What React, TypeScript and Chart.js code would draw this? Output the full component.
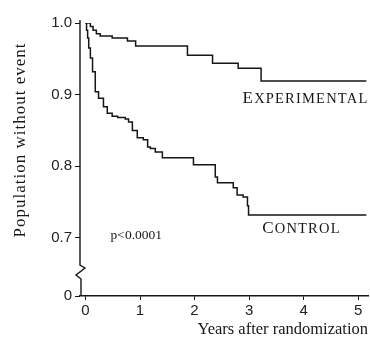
import React, { useEffect, useRef } from "react";
import { Chart, registerables } from "chart.js";

Chart.register(...registerables);

// Kaplan-Meier steps (years, survival)
const expYears = [0, 0.09, 0.14, 0.2, 0.27, 0.49, 0.77, 0.92, 1.87, 2.33, 2.8, 3.22, 5.15];
const expSurv = [1.0, 0.995, 0.99, 0.985, 0.982, 0.979, 0.975, 0.968, 0.955, 0.944, 0.937, 0.919, 0.919];

const ctrlYears = [0, 0.02, 0.04, 0.06, 0.09, 0.13, 0.18, 0.24, 0.33, 0.4, 0.49, 0.59, 0.73, 0.79, 0.86, 0.95, 1.06, 1.14, 1.19, 1.28, 1.41, 1.98, 2.38, 2.42, 2.71, 2.78, 2.89, 2.97, 2.99, 5.15];
const ctrlSurv = [1.0, 0.99, 0.979, 0.965, 0.951, 0.932, 0.904, 0.895, 0.883, 0.874, 0.87, 0.868, 0.866, 0.862, 0.85, 0.84, 0.837, 0.827, 0.825, 0.82, 0.812, 0.802, 0.785, 0.777, 0.77, 0.76, 0.757, 0.745, 0.732, 0.732];

const xTicks = [0, 1, 2, 3, 4, 5];
const yTicks = [0.7, 0.8, 0.9, 1.0];
const yBreakValue = 0.619; // bottom of the broken axis, labelled "0"
const yBreakLabel = "0";

const xTitle = "Years after randomization";
const yTitle = "Population without event";

const curveLabels = [
  { text: "Experimental", x: 2.88, y: 0.888 },
  { text: "Control", x: 3.24, y: 0.707 },
];
const pValue = { text: "p<0.0001", x: 0.46, y: 0.704 };

const INK = "#161616";

const axisPlugin = {
  id: "brokenAxis",
  afterDraw(chart: any) {
    const { ctx, chartArea, scales } = chart;
    const x0 = chartArea.left;
    const top = chartArea.top - 3;
    const bottom = chartArea.bottom;
    ctx.save();
    // broken y axis
    ctx.strokeStyle = INK;
    ctx.lineWidth = 1.4;
    ctx.beginPath();
    ctx.moveTo(x0, top);
    ctx.lineTo(x0, bottom - 31);
    ctx.lineTo(x0 + 5, bottom - 28);
    ctx.lineTo(x0 - 4, bottom - 21);
    ctx.lineTo(x0 + 1, bottom - 17);
    ctx.lineTo(x0 + 1, bottom);
    ctx.stroke();

    ctx.fillStyle = INK;

    // small-caps curve labels
    ctx.textBaseline = "alphabetic";
    ctx.textAlign = "left";
    (ctx as any).letterSpacing = "1.2px";
    for (const a of curveLabels) {
      let px = scales.x.getPixelForValue(a.x);
      const py = scales.y.getPixelForValue(a.y);
      ctx.font = "17px 'Liberation Serif'";
      const first = a.text.charAt(0).toUpperCase();
      ctx.fillText(first, px, py);
      px += ctx.measureText(first).width;
      ctx.font = "14.5px 'Liberation Serif'";
      ctx.fillText(a.text.slice(1).toUpperCase(), px, py);
    }
    (ctx as any).letterSpacing = "0px";

    // p-value
    ctx.textBaseline = "middle";
    ctx.font = "13.5px 'Liberation Serif'";
    ctx.fillText(
      pValue.text,
      scales.x.getPixelForValue(pValue.x),
      scales.y.getPixelForValue(pValue.y)
    );

    // y axis title
    ctx.translate(21, 140);
    ctx.rotate(-Math.PI / 2);
    ctx.textAlign = "center";
    ctx.textBaseline = "middle";
    (ctx as any).letterSpacing = "1px";
    ctx.font = "17px 'Liberation Serif'";
    ctx.fillText(yTitle, 0, 0);
    ctx.restore();
  },
};

export default function App() {
  const ref = useRef<HTMLCanvasElement | null>(null);

  useEffect(() => {
    if (!ref.current) return;
    const chart = new Chart(ref.current, {
      type: "line",
      data: {
        datasets: [
          {
            label: "Experimental",
            data: expYears.map((t, i) => ({ x: t, y: expSurv[i] })),
            borderColor: INK,
            borderWidth: 1.5,
            pointRadius: 0,
            stepped: true,
            fill: false,
          },
          {
            label: "Control",
            data: ctrlYears.map((t, i) => ({ x: t, y: ctrlSurv[i] })),
            borderColor: INK,
            borderWidth: 1.5,
            pointRadius: 0,
            stepped: true,
            fill: false,
          },
        ],
      },
      options: {
        animation: false,
        responsive: true,
        maintainAspectRatio: false,
        layout: { padding: { top: 23, right: 2, left: 0, bottom: 0 } },
        plugins: { legend: { display: false }, tooltip: { enabled: false } },
        scales: {
          x: {
            type: "linear",
            min: -0.1,
            max: 5.18,
            afterBuildTicks: (s: any) => {
              s.ticks = xTicks.map((v) => ({ value: v }));
            },
            afterFit: (s: any) => {
              s.height = 50;
            },
            grid: { drawOnChartArea: false, drawTicks: true, tickLength: 4, color: INK },
            border: { display: true, color: INK, width: 1.4 },
            ticks: {
              color: "#222",
              padding: 2,
              font: { family: "'Liberation Sans'", size: 15 },
              callback: (v: any) => String(v),
            },
            title: {
              display: true,
              text: xTitle,
              align: "end",
              color: INK,
              font: { family: "'Liberation Serif'", size: 16.5 },
              padding: { top: 4, bottom: 6 },
            },
          },
          y: {
            type: "linear",
            min: yBreakValue,
            max: 1.0,
            afterBuildTicks: (s: any) => {
              s.ticks = [yBreakValue, ...yTicks].map((v) => ({ value: v }));
            },
            afterFit: (s: any) => {
              s.width = 80;
            },
            grid: { drawOnChartArea: false, drawTicks: true, tickLength: 5, color: INK },
            border: { display: false },
            ticks: {
              color: "#222",
              padding: 3,
              font: { family: "'Liberation Sans'", size: 15 },
              callback: (v: any) => (v < 0.65 ? yBreakLabel : Number(v).toFixed(1)),
            },
          },
        },
      },
      plugins: [axisPlugin],
    });
    return () => chart.destroy();
  }, []);

  return (
    <div style={{ position: "fixed", left: 0, top: 0, width: 370, height: 346, background: "#fff" }}>
      <canvas ref={ref} />
    </div>
  );
}
